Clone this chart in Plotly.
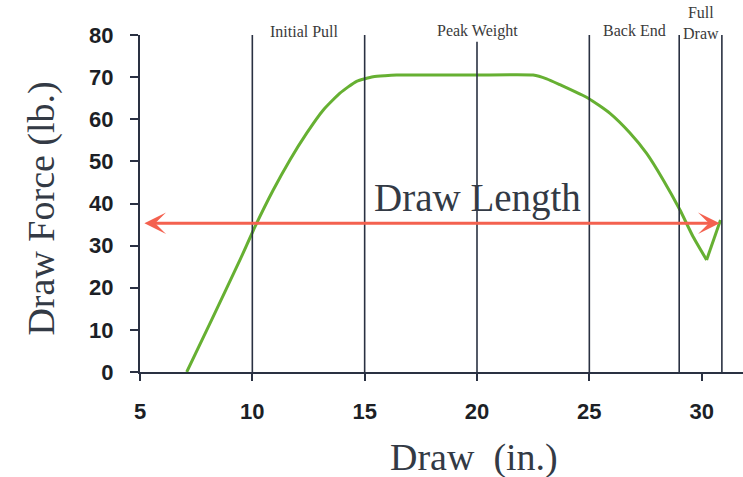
import plotly.graph_objects as go

# Draw-force curve (inches, pounds)
draw_in = [7.08, 8.2, 9.45, 10.12, 10.93, 11.68, 12.42, 13.16, 13.9, 14.64, 15.38,
           15.9, 16.42, 18.0, 20.0, 22.5, 23.1, 23.69, 24.95, 25.92, 26.8, 27.55,
           28.29, 29.03, 29.62, 30.22, 30.84]
force_lb = [0, 12.5, 26.6, 34.5, 43.2, 50.4, 56.7, 62.2, 66.2, 69.0, 70.1,
            70.35, 70.5, 70.5, 70.5, 70.5, 69.6, 68.2, 65.0, 61.4, 56.8, 51.9,
            45.6, 38.5, 32.1, 26.6, 36.1]

# Phase divider positions (inches) and their top ends (lb)
divider_x = [10, 15, 20, 25, 29, 30.9]
divider_top = [80, 80, 78.4, 80, 80, 80]

# Phase labels
phase_labels = ["Initial Pull", "Peak Weight", "Back End", "Full<br>Draw"]
phase_label_x = [12.3, 20.0, 27.03, 29.95]
phase_label_y = [1.0107, 1.0107, 1.0137, 1.036]

# Draw length arrow
arrow_start_x = 5.13
arrow_end_x = 30.8
arrow_y = 35.3

x_ticks = [5, 10, 15, 20, 25, 30]
y_ticks = [0, 10, 20, 30, 40, 50, 60, 70, 80]

AXIS = "#2a3142"
SERIF = "Liberation Serif"
GREEN = "#66b032"

fig = go.Figure()
# smooth main stroke up to the dip, then a straight rebound segment
fig.add_trace(go.Scatter(x=draw_in[:-1], y=force_lb[:-1], mode="lines",
                         line=dict(color=GREEN, width=3, shape="spline", smoothing=0.5),
                         showlegend=False, hoverinfo="skip"))
fig.add_trace(go.Scatter(x=draw_in[-2:], y=force_lb[-2:], mode="lines",
                         line=dict(color=GREEN, width=3),
                         showlegend=False, hoverinfo="skip"))

shapes = []
for xv, top in zip(divider_x, divider_top):
    shapes.append(dict(type="line", xref="x", yref="y", x0=xv, x1=xv, y0=0, y1=top,
                       line=dict(color=AXIS, width=1.6)))

annotations = []
for txt, xv, yv in zip(phase_labels, phase_label_x, phase_label_y):
    annotations.append(dict(text=txt, x=xv, y=yv, xref="x", yref="paper",
                            xanchor="center", yanchor="middle", showarrow=False,
                            font=dict(family=SERIF, size=16, color="#3a3a3a")))

annotations.append(dict(text="", x=arrow_end_x, y=arrow_y, ax=arrow_start_x, ay=arrow_y,
                        xref="x", yref="y", axref="x", ayref="y", showarrow=True,
                        arrowhead=3, startarrowhead=3, arrowside="end+start",
                        arrowsize=1.2, startarrowsize=1.2, arrowwidth=3,
                        arrowcolor="#f4614f", standoff=0, startstandoff=0))

annotations.append(dict(text="Draw Length", x=20.0, y=41.2, xref="x", yref="y",
                        xanchor="center", yanchor="middle", showarrow=False,
                        font=dict(family=SERIF, size=39, color="#333a45")))

annotations.append(dict(text="Draw\u00a0 (in.)", x=0.554, y=-0.255, xref="paper",
                        yref="paper", xanchor="center", yanchor="middle",
                        showarrow=False,
                        font=dict(family=SERIF, size=38, color="#333a45")))

annotations.append(dict(text="Draw Force (lb.)", x=-0.1625, y=0.485, xref="paper",
                        yref="paper", xanchor="center", yanchor="middle",
                        textangle=-90, showarrow=False,
                        font=dict(family=SERIF, size=38, color="#333a45")))

fig.update_layout(
    width=743, height=477,
    margin=dict(l=140, r=0, t=35, b=105),
    paper_bgcolor="white", plot_bgcolor="white",
    shapes=shapes, annotations=annotations,
    xaxis=dict(range=[5, 31.84], tickvals=x_ticks, showgrid=False, zeroline=False,
               showline=True, linecolor=AXIS, linewidth=2, ticks="outside",
               ticklen=7, tickwidth=2, tickcolor=AXIS, ticklabelstandoff=12,
               tickfont=dict(family="Liberation Sans", size=22, color="#1c1f26",
                             weight="bold")),
    yaxis=dict(range=[0, 80], tickvals=y_ticks, showgrid=False, zeroline=False,
               showline=True, linecolor=AXIS, linewidth=2, ticks="outside",
               ticklen=8, tickwidth=2, tickcolor=AXIS, ticklabelstandoff=12,
               tickfont=dict(family="Liberation Sans", size=22, color="#1c1f26",
                             weight="bold")),
)

fig.write_html("out.html", config={"displayModeBar": False},
               post_script="document.body.style.margin='0';"
                           "document.body.style.overflow='hidden';")
